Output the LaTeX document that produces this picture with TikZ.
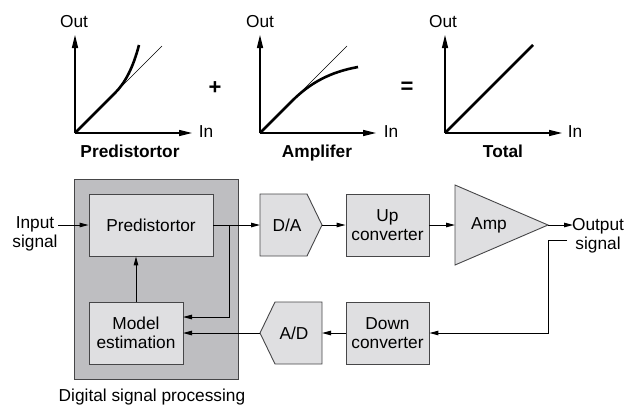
\documentclass[tikz,border=0pt]{standalone}
\usepackage{fontspec}
\setmainfont{Liberation Sans}
\usetikzlibrary{arrows.meta}
\definecolor{dspgray}{RGB}{190,190,193}
\definecolor{boxgray}{RGB}{223,223,225}
\definecolor{edgegray}{RGB}{70,70,72}
\newcommand{\fsz}{\fontsize{17.3}{19}\selectfont}
\begin{document}
\begin{tikzpicture}[x=1pt,y=-1pt,
  lbl/.style={font=\fsz, inner sep=0pt, anchor=base},
  ttl/.style={font=\fsz\bfseries, inner sep=0pt, anchor=base},
  blk/.style={draw=edgegray, fill=boxgray, line width=0.9pt, inner sep=0pt, align=center, font=\fsz},
  shp/.style={draw=edgegray, fill=boxgray, line width=0.9pt},
  conn/.style={line width=1pt, -{Triangle[length=9pt,width=4.5pt]}},
  axis/.style={line width=1.3pt, -{Triangle[length=13pt,width=6pt]}},
  diag/.style={line width=0.6pt},
  curve/.style={line width=2.6pt}]
\useasboundingbox (0,0) rectangle (628,408);

% ---------- graph 1 : predistortor ----------
\coordinate (o1) at (75,133);
\coordinate (y1) at (75,35);
\coordinate (x1) at (192,133);
\draw[axis] (o1) -- (y1);
\draw[axis] (o1) -- (x1);
\node[lbl] (out1) at (74,27) {Out};
\node[lbl] (in1) at (206,137) {In};
\node[ttl] (t1) at (130,157) {Predistortor};
\draw[diag] (o1) -- (162,46);
\draw[curve] (o1) -- (115,93) .. controls (125,83) and (133,68) .. (139,45);

\node[font=\fontsize{22}{22}\selectfont\bfseries, inner sep=0pt] (plus) at (215,88) {+};

% ---------- graph 2 : amplifier ----------
\coordinate (o2) at (260,133);
\coordinate (y2) at (260,35);
\coordinate (x2) at (376,133);
\draw[axis] (o2) -- (y2);
\draw[axis] (o2) -- (x2);
\node[lbl] (out2) at (260,27) {Out};
\node[lbl] (in2) at (391,137) {In};
\node[ttl] (t2) at (317,157) {Amplifer};
\draw[diag] (o2) -- (347,46);
\draw[curve] (o2) -- (292,101) .. controls (310,83) and (330,72) .. (358,67);

\node[font=\fontsize{22}{22}\selectfont\bfseries, inner sep=0pt] (eq) at (407,88) {=};

% ---------- graph 3 : total ----------
\coordinate (o3) at (445,133);
\coordinate (y3) at (445,35);
\coordinate (x3) at (562,133);
\draw[axis] (o3) -- (y3);
\draw[axis] (o3) -- (x3);
\node[lbl] (out3) at (443,27) {Out};
\node[lbl] (in3) at (575,137) {In};
\node[ttl] (t3) at (503,157) {Total};
\draw[curve] (o3) -- (533,45);

% ---------- DSP block ----------
\node[draw=edgegray, fill=dspgray, line width=0.9pt, minimum width=164pt, minimum height=200pt, inner sep=0pt] (dsp) at (156,279) {};
\node[font=\fsz, inner sep=0pt] (dsplbl) at (152,397) {Digital signal processing};
\node[blk, minimum width=124pt, minimum height=62pt] (pre) at (151,225) {Predistortor};
\node[blk, minimum width=94pt, minimum height=62pt] (model) at (136,333) {Model\\estimation};

% ---------- converters ----------
\draw[shp] (260,194) -- (307,194) -- (322,225) -- (307,256) -- (260,256) -- cycle;
\node[font=\fsz, inner sep=0pt] (da) at (287,225) {D/A};
\draw[shp] (275,302) -- (322,302) -- (322,364) -- (275,364) -- (260,333) -- cycle;
\node[font=\fsz, inner sep=0pt] (ad) at (294,333) {A/D};
\node[blk, minimum width=83pt, minimum height=62pt] (upc) at (387.5,225) {Up\\converter};
\node[blk, minimum width=83pt, minimum height=62pt] (dnc) at (387.5,333) {Down\\converter};
\draw[shp] (455,185) -- (548,225) -- (455,265) -- cycle;
\node[font=\fsz, inner sep=0pt] (amp) at (489,225) {Amp};

% ---------- io labels ----------
\node[font=\fsz, align=center, inner sep=0pt] (inp) at (35,234) {Input\\signal};
\node[font=\fsz, align=center, inner sep=0pt] (outp) at (598,236) {Output\\signal};

% ---------- anchor coordinates ----------
\coordinate (inA) at (58,225);
\coordinate (daL) at (260,225);
\coordinate (daR) at (322,225);
\coordinate (ampL) at (455,225);
\coordinate (ampR) at (548,225);
\coordinate (outA) at (573,225);
\coordinate (fbA) at (567,240);
\coordinate (fbB) at (548,240);
\coordinate (adL) at (260,333);
\coordinate (adR) at (322,333);
\coordinate (br) at (229,225);
\coordinate (mA) at (183,317);
\coordinate (mB) at (183,333);

% ---------- connectors ----------
\draw[conn] (inA) -- (pre.west);
\draw[conn] (pre.east) -- (daL);
\draw[conn] (br) |- (mA);
\draw[conn] (model.north) -- (model.north |- pre.south);
\draw[conn] (daR) -- (upc.west);
\draw[conn] (upc.east) -- (ampL);
\draw[conn] (ampR) -- (outA);
\draw[conn] (fbA) -- (fbB) |- (dnc.east);
\draw[conn] (dnc.west) -- (adR);
\draw[conn] (adL) -- (mB);
\end{tikzpicture}
\end{document}
